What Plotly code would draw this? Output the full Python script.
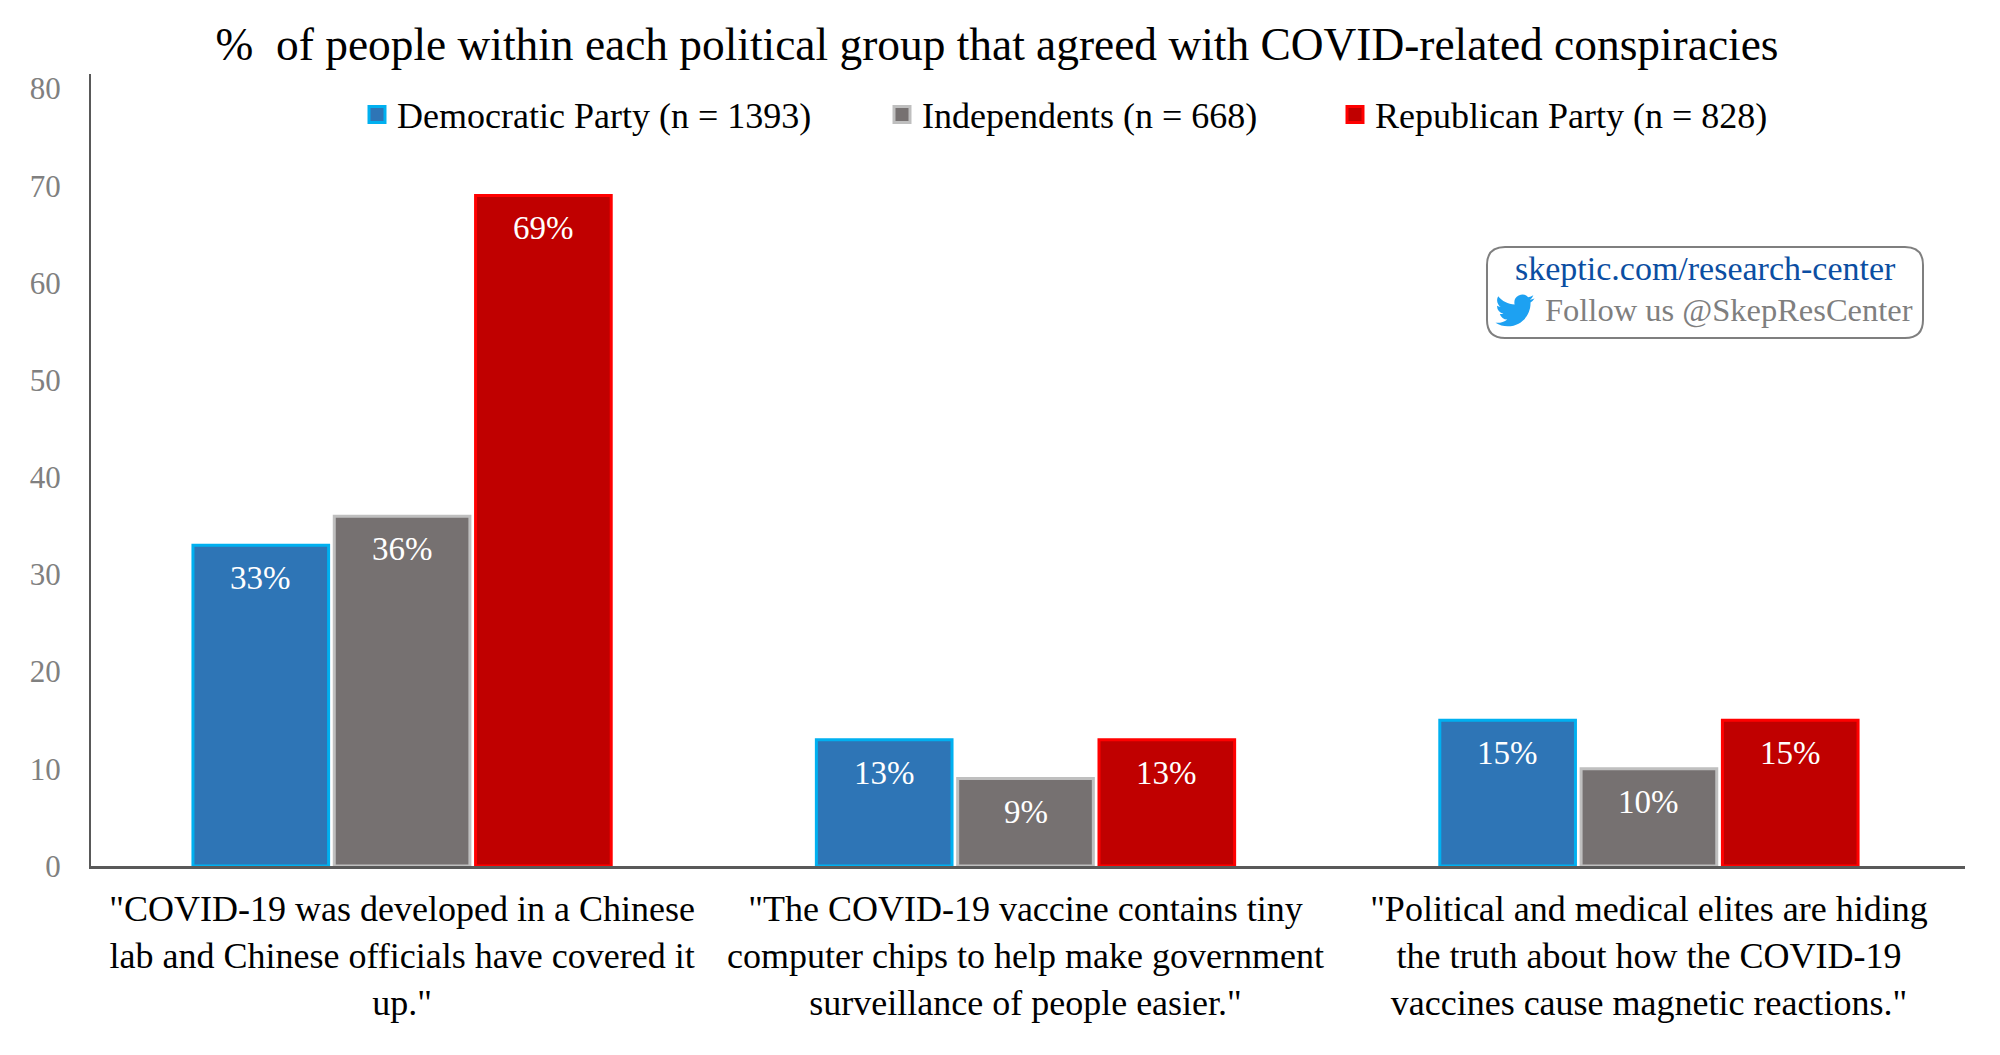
import base64

import plotly.graph_objects as go

# ---- data ----
claims = [
    '"COVID-19 was developed in a Chinese<br>lab and Chinese officials have covered it<br>up."',
    '"The COVID-19 vaccine contains tiny<br>computer chips to help make government<br>surveillance of people easier."',
    '"Political and medical elites are hiding<br>the truth about how the COVID-19<br>vaccines cause magnetic reactions."',
]
dem_values = [33, 13, 15]
ind_values = [36, 9, 10]
rep_values = [69, 13, 15]
y_ticks = [0, 10, 20, 30, 40, 50, 60, 70, 80]

series_names = [
    "Democratic Party (n = 1393)",
    "Independents (n = 668)",
    "Republican Party (n = 828)",
]
fill_colors = ["#2E75B6", "#767171", "#C00000"]
edge_colors = ["#00B0F0", "#BFBFBF", "#FF0000"]

FONT = "Liberation Serif"
W, H = 2000, 1055
L, R, T, B = 91, 35, 74, 189
BARGAP = 0.32
GROUPGAP = 0.04


def px(x, y):
    # page pixels to paper fractions
    return (x - L) / (W - L - R), (H - B - y) / (H - T - B)


def rounded_box(x0, y0, x1, y1, r):
    pts = [
        ("M", x0 + r, y0), ("L", x1 - r, y0), ("Q", x1, y0, x1, y0 + r),
        ("L", x1, y1 - r), ("Q", x1, y1, x1 - r, y1), ("L", x0 + r, y1),
        ("Q", x0, y1, x0, y1 - r), ("L", x0, y0 + r), ("Q", x0, y0, x0 + r, y0),
    ]
    out = []
    for p in pts:
        coords = []
        for i in range(1, len(p), 2):
            fx, fy = px(p[i], p[i + 1])
            coords.append(f"{fx:.5f},{fy:.5f}")
        out.append(p[0] + " ".join(coords))
    return " ".join(out) + " Z"


BIRD = (
    '<svg xmlns="http://www.w3.org/2000/svg" width="240" height="240" viewBox="0 0 24 24"><path fill="#1DA1F2" d="'
    "M23.953 4.57a10 10 0 01-2.825.775 4.958 4.958 0 002.163-2.723c-.951.555-2.005.959-3.127 1.184"
    "a4.92 4.92 0 00-8.384 4.482C7.69 8.095 4.067 6.13 1.64 3.162a4.822 4.822 0 00-.666 2.475"
    "c0 1.71.87 3.213 2.188 4.096a4.904 4.904 0 01-2.228-.616v.06a4.923 4.923 0 003.946 4.827"
    " 4.996 4.996 0 01-2.212.085 4.936 4.936 0 004.604 3.417 9.867 9.867 0 01-6.102 2.105"
    "c-.39 0-.779-.023-1.17-.067a13.995 13.995 0 007.557 2.209c9.053 0 13.998-7.496 13.998-13.985"
    ' 0-.21 0-.42-.015-.63A9.935 9.935 0 0024 4.59z"/></svg>'
)

fig = go.Figure()
all_values = [dem_values, ind_values, rep_values]
legend_ids = ["legend", "legend2", "legend3"]
for name, vals, fill, edge, leg in zip(series_names, all_values, fill_colors, edge_colors, legend_ids):
    fig.add_trace(go.Bar(
        name=name, x=claims, y=vals, showlegend=False,
        marker=dict(color=fill, line=dict(color=edge, width=3)),
    ))
    # bar swatches in the legend are too small, a square marker gets closer
    fig.add_trace(go.Scatter(
        name=name, x=[None], y=[None], mode="markers", legend=leg,
        marker=dict(symbol="square", size=16, color=fill, line=dict(color=edge, width=3)),
    ))

# value labels sit lower than the bar's inside-end position, so annotate them
step = (1 - BARGAP) / 3
annotations = []
for s, vals in enumerate(all_values):
    for c, v in enumerate(vals):
        annotations.append(dict(
            x=c + (s - 1) * step, y=v, xref="x", yref="y",
            text=f"{v}%", showarrow=False, yanchor="middle", yshift=-33,
            font=dict(family=FONT, size=33, color="white"),
        ))

# website box
bx, by = px(1705, 268)
annotations.append(dict(x=bx, y=by, xref="paper", yref="paper", showarrow=False,
                        xanchor="center", yanchor="middle",
                        text="skeptic.com/research-center",
                        font=dict(family=FONT, size=34, color="#0B4EA2")))
bx, by = px(1915, 310)
annotations.append(dict(x=bx, y=by, xref="paper", yref="paper", showarrow=False,
                        xanchor="right", yanchor="middle", text="Follow us @SkepResCenter",
                        font=dict(family=FONT, size=32.5, color="#7F7F7F")))

ix, iy = px(1494, 291)
sx = 42 / (W - L - R)
sy = 39 / (H - T - B)


def legend_at(x):
    return dict(
        orientation="h", x=px(x, 0)[0], y=px(0, 114.5)[1],
        xanchor="left", yanchor="middle",
        font=dict(family=FONT, size=36, color="black"),
        bgcolor="rgba(0,0,0,0)",
    )


fig.update_layout(
    width=W, height=H,
    margin=dict(l=L, r=R, t=T, b=B, autoexpand=False),
    paper_bgcolor="white", plot_bgcolor="white",
    barmode="group", bargap=BARGAP, bargroupgap=GROUPGAP,
    font=dict(family=FONT, color="black"),
    title=dict(
        text="%  of people within each political group that agreed with COVID-related conspiracies",
        x=0.4985, xanchor="center", xref="container", y=1 - 44 / H, yanchor="middle",
        font=dict(family=FONT, size=45.4, color="black"),
    ),
    legend=legend_at(357),
    legend2=legend_at(882),
    legend3=legend_at(1335),
    xaxis=dict(
        range=[-0.499, 2.507],
        showline=True, linecolor="#595959", linewidth=3, showgrid=False, ticks="",
        tickfont=dict(family=FONT, size=36, color="black"), tickangle=0,
        ticklabelstandoff=9,
    ),
    yaxis=dict(
        range=[0, 81.5], tickvals=y_ticks, showline=True, linecolor="#595959", linewidth=2,
        showgrid=False, zeroline=False, ticks="",
        tickfont=dict(family=FONT, size=31, color="#808080"), ticklabelstandoff=22,
    ),
    annotations=annotations,
    shapes=[dict(type="path", xref="paper", yref="paper",
                 path=rounded_box(1487, 247, 1923, 338, 18),
                 line=dict(color="#7F7F7F", width=2), fillcolor="rgba(0,0,0,0)")],
    images=[dict(
        source="data:image/svg+xml;base64," + base64.b64encode(BIRD.encode()).decode(),
        xref="paper", yref="paper", x=ix, y=iy, sizex=sx, sizey=sy,
        xanchor="left", yanchor="top", sizing="contain", layer="above",
    )],
)

# the browser's default body margin would push the figure off by 8px
fig.write_html("out.html", config={"displayModeBar": False},
               post_script="document.body.style.margin = '0';")
